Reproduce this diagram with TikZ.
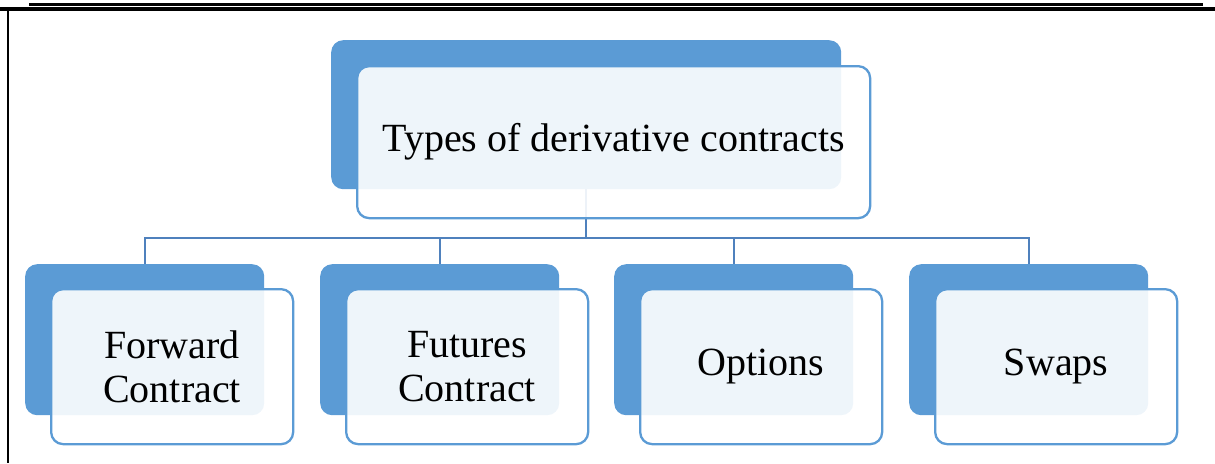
\documentclass[tikz,border=0pt]{standalone}
\usepackage{fontspec}
\setmainfont{Liberation Serif}
\definecolor{smblue}{HTML}{5B9BD5}
\definecolor{linkblue}{HTML}{4F81BD}
\begin{document}
\begin{tikzpicture}[x=1pt,y=-1pt,
  backbox/.style={fill=smblue, draw=none, rounded corners=12pt, inner sep=0pt, anchor=north west},
  frontbox/.style={fill=white, fill opacity=0.9, text opacity=1, draw=smblue, draw opacity=1,
    line width=2.3pt, rounded corners=12pt, inner sep=0pt, anchor=north west, align=center,
    font=\fontsize{40}{44}\selectfont},
  link/.style={draw=linkblue, line width=2.4pt},
  rule/.style={draw=black}]
\useasboundingbox (0,0) rectangle (1215,463);

% page rules and left margin line
\draw[rule, line width=2.4pt] (29,4.5) -- (1203,4.5);
\draw[rule, line width=3.2pt] (0,9) -- (1215,9);
\draw[rule, line width=2.8pt] (8,9) -- (8,463);

% back plates
\node[backbox, minimum width=510pt, minimum height=149pt] (topb) at (331,40) {};
\node[backbox, minimum width=239pt, minimum height=151pt] (c1b) at (25,264) {};
\node[backbox, minimum width=239pt, minimum height=151pt] (c2b) at (320,264) {};
\node[backbox, minimum width=239pt, minimum height=151pt] (c3b) at (614,264) {};
\node[backbox, minimum width=239pt, minimum height=151pt] (c4b) at (909,264) {};

% hierarchy connectors
\coordinate (bus) at (0,238);
\foreach \c in {c1b,c2b,c3b,c4b}
  \draw[link] (topb.south) -- (topb.south |- bus) -| (\c.north);

% front cards with labels
\node[frontbox, minimum width=513pt, minimum height=152pt] (top) at (356,65) {Types of derivative contracts};
\node[frontbox, minimum width=242pt, minimum height=155pt] (c1) at (50,288) {Forward\\Contract};
\node[frontbox, minimum width=242pt, minimum height=155pt] (c2) at (345,288) {Futures\\Contract};
\node[frontbox, minimum width=242pt, minimum height=155pt] (c3) at (639,288) {Options};
\node[frontbox, minimum width=242pt, minimum height=155pt] (c4) at (934,288) {Swaps};
\end{tikzpicture}
\end{document}
